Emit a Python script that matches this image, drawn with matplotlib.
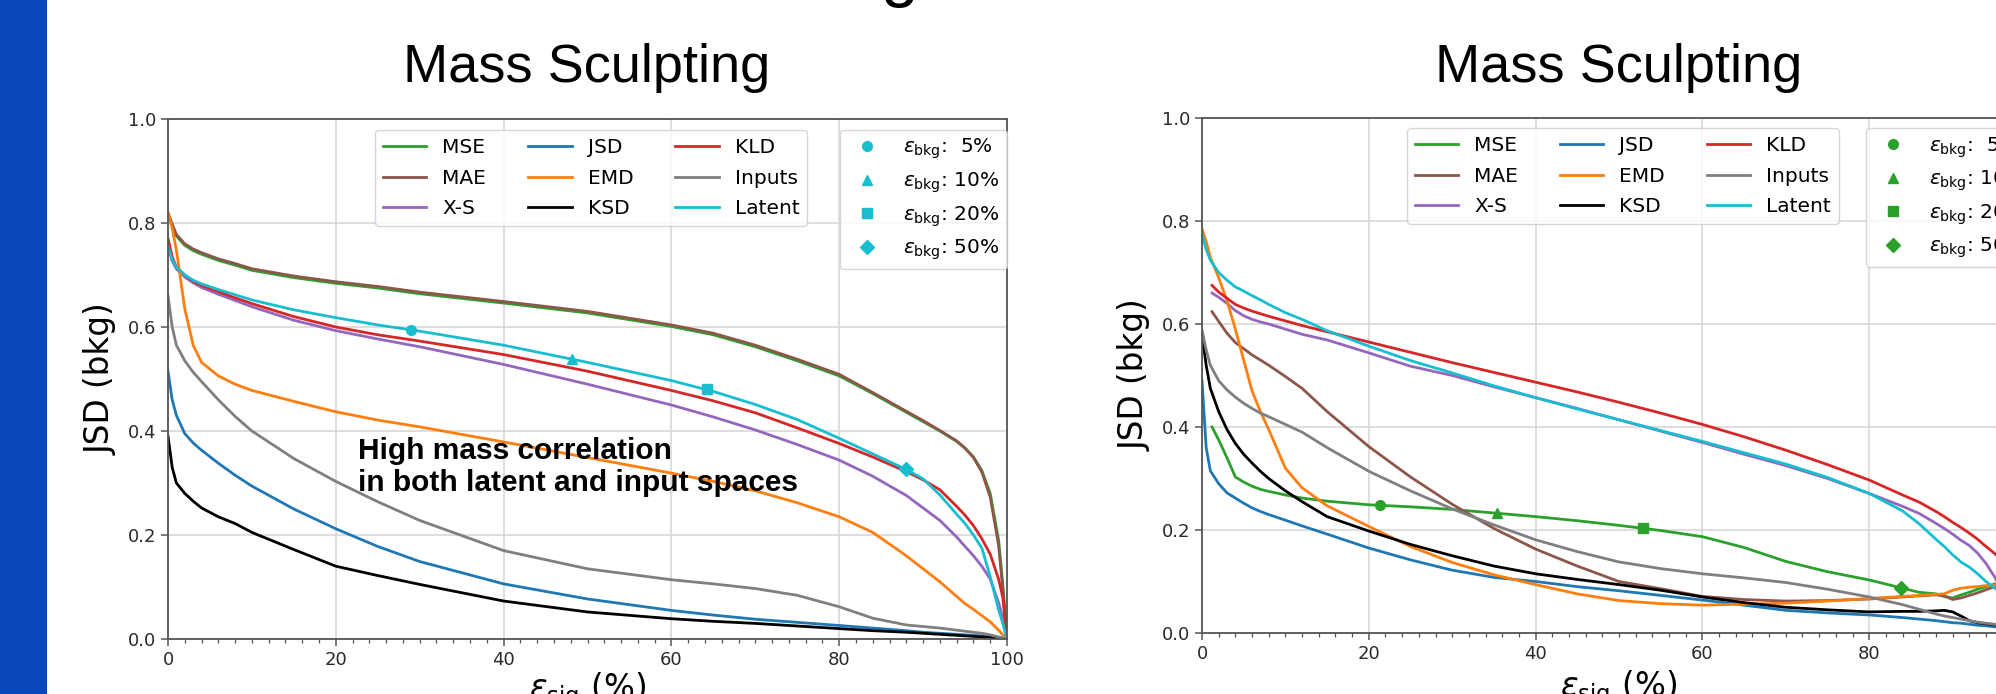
import numpy as np
import matplotlib
matplotlib.use("Agg")
from matplotlib import pyplot as plt
from matplotlib.lines import Line2D
from matplotlib.patches import Rectangle
from matplotlib.ticker import MultipleLocator, FormatStrFormatter

# ---- left panel: signal efficiency (%) vs JSD(bkg)
x_left = [0, 0.5, 1, 2, 3, 4, 6, 8, 10, 15, 20, 25, 30, 40, 50, 60, 65, 70, 75, 80,
          84, 88, 90, 92, 94, 95, 96, 97, 98, 99, 99.5, 100]
mse_left = [0.815, 0.795, 0.775, 0.757, 0.747, 0.740, 0.728, 0.719, 0.709, 0.695, 0.684, 0.675,
            0.664, 0.646, 0.627, 0.601, 0.585, 0.562, 0.535, 0.506, 0.472, 0.436, 0.418, 0.400,
            0.380, 0.367, 0.350, 0.324, 0.280, 0.190, 0.105, 0.0]
mae_left = [0.82, 0.798, 0.778, 0.76, 0.75, 0.743, 0.731, 0.722, 0.712, 0.698, 0.687, 0.678,
            0.667, 0.649, 0.63, 0.604, 0.588, 0.565, 0.538, 0.509, 0.474, 0.438, 0.42, 0.401,
            0.381, 0.367, 0.349, 0.321, 0.273, 0.18, 0.095, 0.0]
xs_left = [0.755, 0.727, 0.712, 0.696, 0.685, 0.676, 0.663, 0.651, 0.639, 0.613, 0.593, 0.577,
           0.562, 0.528, 0.49, 0.45, 0.427, 0.402, 0.374, 0.344, 0.313, 0.276, 0.252, 0.228,
           0.196, 0.178, 0.16, 0.14, 0.115, 0.07, 0.04, 0.0]
jsd_left = [0.515, 0.46, 0.43, 0.395, 0.377, 0.363, 0.338, 0.315, 0.294, 0.25, 0.212, 0.178,
            0.149, 0.106, 0.077, 0.055, 0.046, 0.038, 0.032, 0.026, 0.021, 0.016, 0.013, 0.011,
            0.009, 0.008, 0.007, 0.006, 0.004, 0.002, 0.001, 0.0]
emd_left = [0.82, 0.79, 0.748, 0.635, 0.565, 0.532, 0.506, 0.49, 0.478, 0.457, 0.437, 0.421,
            0.408, 0.379, 0.349, 0.319, 0.303, 0.285, 0.262, 0.235, 0.205, 0.16, 0.135, 0.11,
            0.082, 0.068, 0.057, 0.045, 0.033, 0.017, 0.008, 0.0]
ksd_left = [0.39, 0.33, 0.30, 0.28, 0.265, 0.252, 0.235, 0.222, 0.205, 0.172, 0.14, 0.122,
            0.105, 0.073, 0.052, 0.039, 0.034, 0.03, 0.025, 0.02, 0.016, 0.013, 0.011, 0.009,
            0.007, 0.006, 0.005, 0.004, 0.003, 0.002, 0.001, 0.0]
kld_left = [0.77, 0.735, 0.715, 0.70, 0.688, 0.68, 0.668, 0.656, 0.645, 0.62, 0.60, 0.585,
            0.573, 0.547, 0.515, 0.478, 0.458, 0.435, 0.406, 0.376, 0.35, 0.322, 0.306, 0.287,
            0.255, 0.238, 0.218, 0.193, 0.163, 0.115, 0.08, 0.0]
inputs_left = [0.66, 0.6, 0.565, 0.535, 0.513, 0.495, 0.46, 0.428, 0.4, 0.347, 0.303, 0.264,
               0.228, 0.17, 0.135, 0.114, 0.106, 0.097, 0.084, 0.062, 0.04, 0.027, 0.024, 0.021,
               0.017, 0.015, 0.013, 0.011, 0.008, 0.004, 0.002, 0.0]
latent_left = [0.755, 0.73, 0.715, 0.70, 0.69, 0.683, 0.672, 0.662, 0.652, 0.633, 0.618, 0.604,
               0.592, 0.565, 0.532, 0.497, 0.476, 0.451, 0.422, 0.386, 0.356, 0.326, 0.308,
               0.277, 0.24, 0.222, 0.2, 0.175, 0.12, 0.056, 0.03, 0.0]
mark_x_left = [29.0, 48.2, 64.3, 88.0]
mark_y_left = [0.594, 0.538, 0.48, 0.326]

# ---- right panel
x_right = [0, 0.5, 1, 2, 3, 4, 5, 6, 7, 8, 10, 12, 15, 20, 25, 30, 35, 40, 45, 50, 55, 60,
           65, 70, 75, 80, 84, 86, 88, 89, 90, 91, 92, 93, 94, 95, 96]
x_right_late = [1.2, 2, 3, 4, 5, 6, 7, 8, 10, 12, 15, 20, 25, 30, 35, 40, 45, 50, 55, 60,
                65, 70, 75, 80, 84, 86, 88, 89, 90, 91, 92, 93, 94, 95, 96]
mse_right = [0.40, 0.375, 0.34, 0.303, 0.293, 0.285, 0.279, 0.275, 0.268, 0.262, 0.256, 0.249,
             0.245, 0.24, 0.233, 0.226, 0.218, 0.209, 0.199, 0.187, 0.166, 0.139, 0.119, 0.103,
             0.087, 0.079, 0.076, 0.071, 0.068, 0.074, 0.079, 0.085, 0.09, 0.095, 0.098]
mae_right = [0.624, 0.605, 0.582, 0.564, 0.552, 0.54, 0.53, 0.52, 0.498, 0.475, 0.43, 0.362,
             0.303, 0.25, 0.203, 0.163, 0.13, 0.1, 0.086, 0.071, 0.065, 0.062, 0.063, 0.066,
             0.07, 0.072, 0.074, 0.072, 0.065, 0.068, 0.073, 0.078, 0.084, 0.09, 0.094]
xs_right = [0.66, 0.652, 0.64, 0.626, 0.616, 0.609, 0.604, 0.6, 0.59, 0.58, 0.569, 0.544,
            0.518, 0.5, 0.478, 0.457, 0.436, 0.414, 0.392, 0.37, 0.347, 0.325, 0.3, 0.271,
            0.246, 0.232, 0.213, 0.203, 0.192, 0.18, 0.17, 0.155, 0.135, 0.11, 0.08]
kld_right = [0.675, 0.662, 0.65, 0.638, 0.631, 0.625, 0.62, 0.615, 0.606, 0.597, 0.585, 0.565,
             0.545, 0.525, 0.506, 0.487, 0.468, 0.448, 0.427, 0.405, 0.381, 0.355, 0.327,
             0.297, 0.268, 0.254, 0.236, 0.226, 0.215, 0.205, 0.194, 0.182, 0.168, 0.155, 0.14]
jsd_right = [0.49, 0.36, 0.315, 0.29, 0.272, 0.262, 0.252, 0.243, 0.236, 0.23, 0.219, 0.208,
             0.192, 0.165, 0.142, 0.122, 0.108, 0.1, 0.09, 0.082, 0.073, 0.064, 0.054, 0.044,
             0.039, 0.035, 0.03, 0.027, 0.024, 0.022, 0.02, 0.019, 0.017, 0.015, 0.014, 0.012,
             0.011]
emd_right = [0.785, 0.76, 0.73, 0.69, 0.645, 0.59, 0.53, 0.47, 0.43, 0.395, 0.32, 0.282,
             0.247, 0.207, 0.168, 0.137, 0.113, 0.094, 0.076, 0.063, 0.057, 0.054, 0.056,
             0.058, 0.062, 0.067, 0.071, 0.073, 0.075, 0.076, 0.083, 0.087, 0.089, 0.09, 0.092,
             0.093, 0.094]
ksd_right = [0.58, 0.52, 0.475, 0.43, 0.395, 0.368, 0.347, 0.33, 0.314, 0.3, 0.276, 0.255,
             0.226, 0.198, 0.172, 0.15, 0.13, 0.115, 0.104, 0.094, 0.083, 0.07, 0.059, 0.05,
             0.045, 0.041, 0.042, 0.042, 0.043, 0.044, 0.041, 0.033, 0.024, 0.02, 0.018,
             0.016, 0.015]
inputs_right = [0.588, 0.55, 0.52, 0.49, 0.472, 0.458, 0.446, 0.436, 0.427, 0.42, 0.405, 0.39,
                0.36, 0.314, 0.276, 0.241, 0.21, 0.181, 0.158, 0.138, 0.125, 0.115, 0.107,
                0.098, 0.085, 0.07, 0.055, 0.046, 0.037, 0.033, 0.03, 0.027, 0.024, 0.021,
                0.019, 0.017, 0.015]
latent_right = [0.775, 0.745, 0.724, 0.70, 0.685, 0.672, 0.664, 0.655, 0.647, 0.638, 0.622,
                0.609, 0.587, 0.557, 0.529, 0.505, 0.48, 0.457, 0.435, 0.414, 0.393, 0.372,
                0.35, 0.328, 0.302, 0.271, 0.237, 0.212, 0.182, 0.168, 0.152, 0.138, 0.128,
                0.115, 0.1, 0.088, 0.075]
mark_x_right = [21.4, 35.4, 52.9, 83.8]
mark_y_right = [0.248, 0.233, 0.204, 0.088]

bkg_levels = ['  5%', ' 10%', ' 20%', ' 50%']
markers = ['o', '^', 's', 'D']

names = ['MSE', 'MAE', 'X-S', 'JSD', 'EMD', 'KSD', 'KLD', 'Inputs', 'Latent']
colors = ['tab:green', 'tab:brown', 'tab:purple', 'tab:blue', 'tab:orange', 'black',
          'tab:red', 'tab:gray', 'tab:cyan']

W, H = 1996, 694
fig = plt.figure(figsize=(W / 100, H / 100), dpi=100)
fig.patches.append(Rectangle((0, 0), 47 / W, 1, transform=fig.transFigure,
                             facecolor='#0a47b9', edgecolor='none'))


def px_axes(x0, x1, ytop, ybot):
    return fig.add_axes([x0 / W, 1 - ybot / H, (x1 - x0) / W, (ybot - ytop) / H])


def style(ax):
    ax.set_xlim(0, 100)
    ax.set_ylim(0, 1)
    ax.set_xticks(range(0, 101, 20))
    ax.set_yticks([0, 0.2, 0.4, 0.6, 0.8, 1.0])
    ax.yaxis.set_major_formatter(FormatStrFormatter('%.1f'))
    ax.xaxis.set_minor_locator(MultipleLocator(2))
    ax.grid(True, color='#d4d4d4', lw=1.1)
    ax.set_axisbelow(True)
    for s in ax.spines.values():
        s.set_color('#555555')
        s.set_linewidth(1.3)
    ax.tick_params(which='major', labelsize=13, color='#555555', labelcolor='#2a2a2a',
                   length=5, width=1.1)
    ax.tick_params(which='minor', color='#555555', length=3, width=0.9)
    ax.set_ylabel('JSD (bkg)', fontsize=23.5)
    ax.set_xlabel(r'$\varepsilon_{\rm sig}$ (%)', fontsize=23.5)


def draw(ax, series, mx, my, mcolor, leg_main, leg_mark):
    for (xv, yv), name, c in zip(series, names, colors):
        ax.plot(xv, yv, color=c, lw=2, label=name)
    for x, y, m in zip(mx, my, markers):
        ax.plot([x], [y], marker=m, color=mcolor, ms=7, ls='')
    h1 = [Line2D([], [], color=c, lw=2) for c in colors]
    l1 = ax.legend(h1, names, ncol=3, fontsize=14.5, loc='upper left',
                   bbox_to_anchor=leg_main, borderaxespad=0, labelspacing=0.58,
                   borderpad=0.4, handlelength=2.15, columnspacing=2.08)
    ax.add_artist(l1)
    h2 = [Line2D([], [], marker=m, color=mcolor, ms=7, ls='') for m in markers]
    labs = [r'$\varepsilon_{\rm bkg}$:' + b for b in bkg_levels]
    ax.legend(h2, labs, fontsize=14.5, loc='upper left', bbox_to_anchor=leg_mark,
              borderaxespad=0, labelspacing=0.45, borderpad=0.35)


ax1 = px_axes(168, 1007, 119, 639)
style(ax1)
draw(ax1, [(x_left, mse_left), (x_left, mae_left), (x_left, xs_left), (x_left, jsd_left),
           (x_left, emd_left), (x_left, ksd_left), (x_left, kld_left),
           (x_left, inputs_left), (x_left, latent_left)],
     mark_x_left, mark_y_left, 'tab:cyan', (0.2467, 0.979), (0.8007, 0.979))
ax1.yaxis.set_label_coords(-0.06, 0.5)
ax1.xaxis.set_label_coords(0.5, -0.06)
ax1.text(0.227, 0.2846, 'High mass correlation\nin both latent and input spaces',
         transform=ax1.transAxes, fontsize=21.5, fontweight='bold',
         family='Liberation Sans', va='baseline', ha='left')

ax2 = px_axes(1202, 2036, 118, 633)
style(ax2)
draw(ax2, [(x_right_late, mse_right), (x_right_late, mae_right), (x_right_late, xs_right),
           (x_right, jsd_right), (x_right, emd_right), (x_right, ksd_right),
           (x_right_late, kld_right), (x_right, inputs_right), (x_right, latent_right)],
     mark_x_right, mark_y_right, 'tab:green', (0.2454, 0.9806), (0.796, 0.9806))
ax2.yaxis.set_label_coords(-0.06, 0.5)
ax2.xaxis.set_label_coords(0.5, -0.068)

fig.text(587 / W, 1 - 82 / H, 'Mass Sculpting', ha='center', va='baseline', fontsize=39,
         family='Liberation Sans')
fig.text(1619 / W, 1 - 82 / H, 'Mass Sculpting', ha='center', va='baseline', fontsize=39,
         family='Liberation Sans')
fig.text(899 / W, 1 + 6 / H, 'g', ha='center', va='baseline', fontsize=49,
         family='Liberation Sans')

fig.savefig('out.png', dpi=100)
